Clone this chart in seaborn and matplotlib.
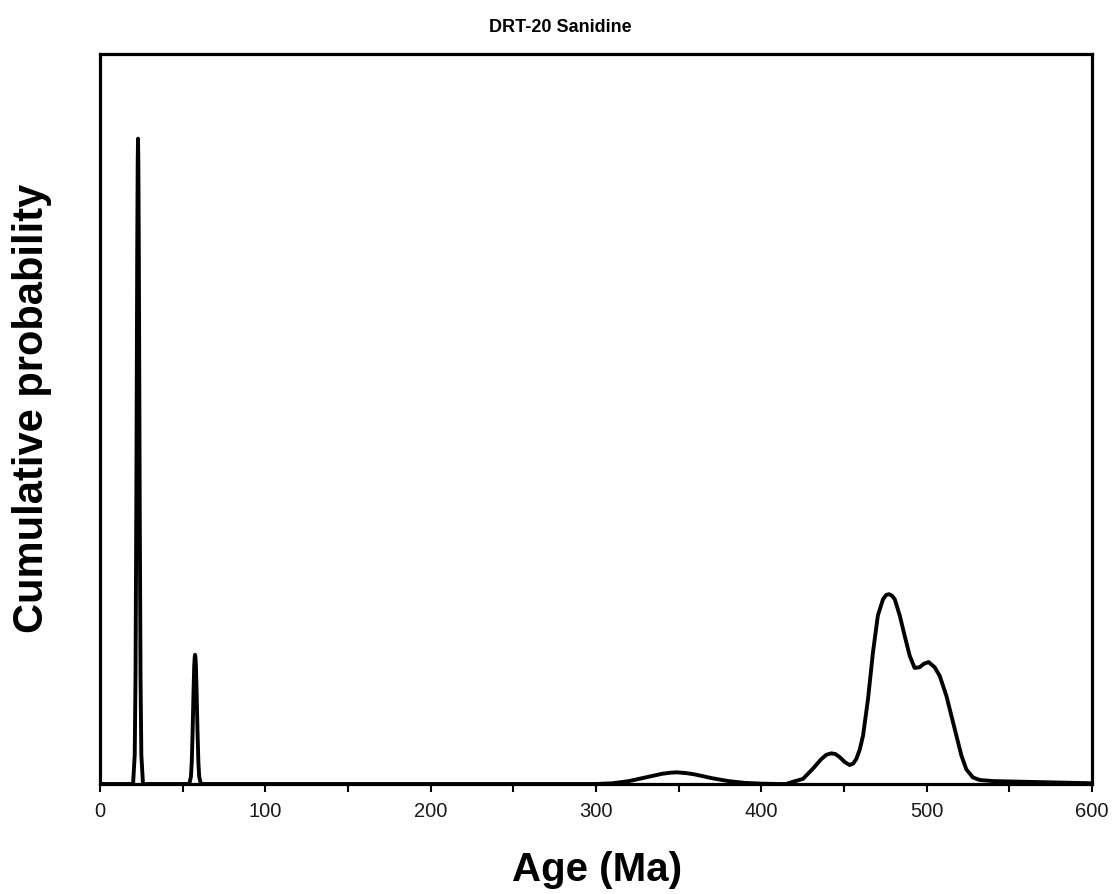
import matplotlib
matplotlib.use("Agg")
import matplotlib.pyplot as plt
import seaborn as sns
import pandas as pd
from matplotlib.ticker import MultipleLocator

ages = [0, 19, 20.0, 21.0, 21.5, 22.0, 22.5, 22.8, 23.0, 23.2, 23.5, 24.0, 24.5, 25.0, 26.0,
        54, 55, 55.5, 56, 56.5, 57, 57.3, 57.5, 57.7, 58, 58.5, 59, 59.5, 60, 61,
        300, 310, 320, 330, 335, 340, 345, 349, 355, 360, 365, 370, 380, 390, 400, 410,
        415, 419, 425.2, 431.2, 436.2, 439.3, 442.3, 444.8, 447.3, 450.5, 453.4, 455.5,
        457.4, 459.5, 461.5, 464.5, 467.5, 470.5, 473.6, 475.5, 477.2, 479.0, 480.7,
        483.7, 486.7, 489.7, 492.7, 495.8, 498.5, 501.2, 504.8, 507.9, 511.9, 514.9,
        518, 521, 524, 528, 532, 540, 560, 580, 600]
prob = [0, 0, 0.0, 0.04, 0.15, 0.40, 0.72, 0.85, 0.884, 0.85, 0.72, 0.40, 0.15, 0.04, 0.0,
        0, 0.01, 0.03, 0.07, 0.12, 0.163, 0.174, 0.177, 0.174, 0.163, 0.12, 0.07, 0.03, 0.01, 0,
        0, 0.001, 0.004, 0.009, 0.0115, 0.014, 0.0155, 0.016, 0.0148, 0.013, 0.0105, 0.008,
        0.004, 0.0015, 0.0005, 0,
        0, 0.003, 0.007, 0.021, 0.034, 0.040, 0.042, 0.041, 0.037, 0.030, 0.026, 0.028,
        0.034, 0.047, 0.066, 0.116, 0.180, 0.231, 0.253, 0.259, 0.260, 0.258, 0.253,
        0.231, 0.203, 0.176, 0.159, 0.160, 0.165, 0.167, 0.160, 0.148, 0.121, 0.094,
        0.066, 0.039, 0.020, 0.009, 0.0055, 0.004, 0.003, 0.002, 0.001]

x_ticks = [0, 100, 200, 300, 400, 500, 600]
title = "DRT-20 Sanidine"
x_label = "Age (Ma)"
y_label = "Cumulative probability"

df = pd.DataFrame({"age": ages, "prob": prob})

sns.set_theme(style="white")
plt.rcParams["font.family"] = ["Liberation Sans", "DejaVu Sans"]
plt.rcParams["text.color"] = "black"

fig = plt.figure(figsize=(11.2, 8.95), dpi=100)
ax = fig.add_axes([100 / 1120, 1 - 785 / 895, (1092 - 100) / 1120, (785 - 55) / 895])

sns.lineplot(data=df, x="age", y="prob", ax=ax, color="black", linewidth=2.8,
             sort=False, estimator=None)
ax.lines[0].set_solid_joinstyle("round")

ax.set_xlim(0, 600)
ax.set_ylim(0, 1.0)
ax.set_xticks(x_ticks)
ax.set_xticklabels([str(t) for t in x_ticks], fontsize=14.5, color="#1a1a1a")
ax.xaxis.set_minor_locator(MultipleLocator(50))
ax.tick_params(axis="x", which="both", direction="out", length=6, width=1.5,
               color="black", bottom=True, pad=6)
ax.set_yticks([])
ax.set_xlabel("")
ax.set_ylabel("")

for s in ax.spines.values():
    s.set_visible(True)
    s.set_color("black")
    s.set_linewidth(2.3)

fig.text(0.5, 1 - 28 / 895, title, ha="center", va="center", fontsize=13,
         fontweight="bold", color="black")
fig.text(597 / 1120, 1 - 870 / 895, x_label, ha="center", va="center",
         fontsize=29, fontweight="bold", color="black")
fig.text(32 / 1120, 1 - 408 / 895, y_label, ha="center", va="center",
         fontsize=30, fontweight="bold", rotation=90, color="black")

fig.savefig("out.png", dpi=100)
